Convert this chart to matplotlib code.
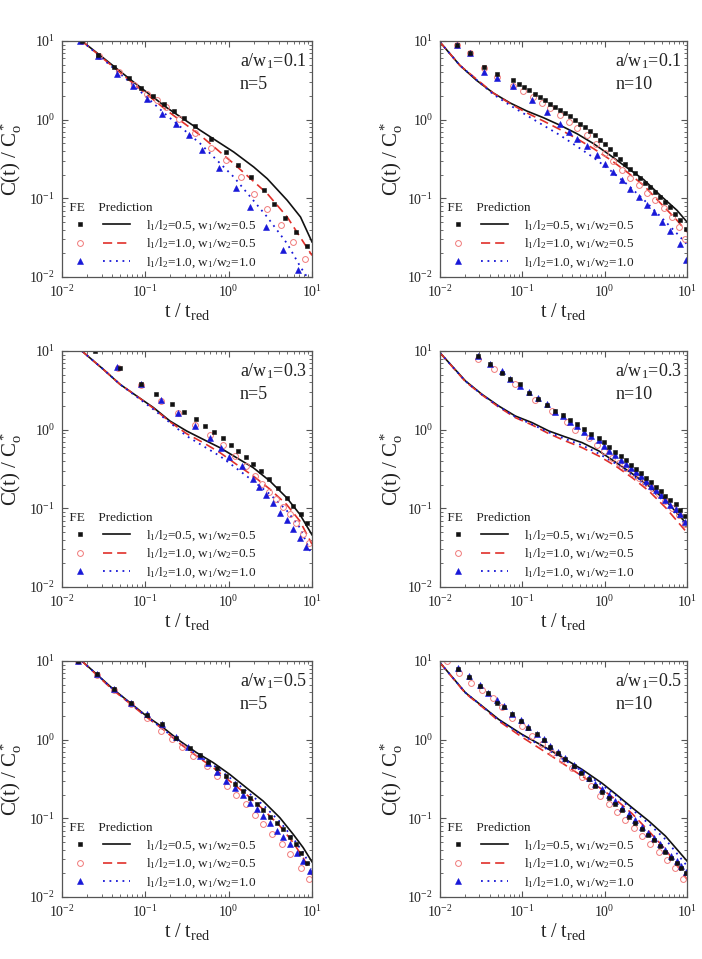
import numpy as np
import matplotlib
matplotlib.use("Agg")
import matplotlib.pyplot as plt
from matplotlib.lines import Line2D
from matplotlib.legend_handler import HandlerTuple
from matplotlib.ticker import LogLocator, LogFormatterMathtext, NullFormatter

plt.rcParams['font.family'] = ['Liberation Serif', 'DejaVu Serif']
plt.rcParams['mathtext.fontset'] = 'custom'
plt.rcParams['mathtext.rm'] = 'Liberation Serif'
plt.rcParams['mathtext.it'] = 'Liberation Serif:italic'
plt.rcParams['mathtext.bf'] = 'Liberation Serif:bold'
plt.rcParams['mathtext.default'] = 'regular'

# ---------------- data ----------------
# Panel 1: a/w1=0.1, n=5
p1_sq_t = [0.0173, 0.0274, 0.0416, 0.0629, 0.0882, 0.124, 0.166, 0.223, 0.294, 0.398, 0.613, 0.936, 1.31, 1.84, 2.64, 3.48, 4.68, 6.46, 8.75]
p1_sq_c = [9.91, 6.70, 4.67, 3.42, 2.50, 1.98, 1.58, 1.29, 1.06, 0.822, 0.568, 0.385, 0.268, 0.187, 0.126, 0.084, 0.0568, 0.0373, 0.0248]
p1_ci_t = [0.0173, 0.0279, 0.0477, 0.0722, 0.104, 0.137, 0.177, 0.256, 0.392, 0.613, 0.927, 1.40, 2.00, 2.90, 4.20, 5.89, 8.34]
p1_ci_c = [9.91, 6.52, 4.04, 2.73, 2.10, 1.76, 1.45, 1.01, 0.678, 0.441, 0.304, 0.187, 0.115, 0.0740, 0.0458, 0.0276, 0.0168]
p1_tr_t = [0.0165, 0.0269, 0.0456, 0.0709, 0.106, 0.160, 0.233, 0.338, 0.484, 0.774, 1.22, 1.82, 2.81, 4.43, 6.83]
p1_tr_c = [10.0, 6.38, 3.85, 2.65, 1.85, 1.19, 0.873, 0.632, 0.411, 0.240, 0.137, 0.0776, 0.0433, 0.0222, 0.0122]
p1_ln_t = [0.0173, 0.0286, 0.0722, 0.181, 0.457, 1.15, 2.00, 2.90, 5.04, 7.28, 10.0]
p1_ln_c = [10.0, 6.58, 3.01, 1.42, 0.731, 0.388, 0.250, 0.178, 0.0944, 0.0579, 0.0279]
p1_da_t = [0.0173, 0.0722, 0.181, 0.457, 1.15, 2.90, 5.04, 10.0]
p1_da_c = [10.0, 2.87, 1.31, 0.632, 0.276, 0.115, 0.0579, 0.0188]
p1_do_t = [0.0173, 0.0722, 0.181, 0.457, 1.15, 2.90, 5.04, 7.28, 8.73]
p1_do_c = [10.0, 2.73, 1.135, 0.495, 0.187, 0.0579, 0.0265, 0.0134, 0.0100]

# Panel 2: a/w1=0.1, n=10
p2_sq_t = [0.0162, 0.0231, 0.0343, 0.0489, 0.0764, 0.0917, 0.106, 0.122, 0.143, 0.164, 0.189, 0.218, 0.250, 0.289, 0.332, 0.381, 0.438, 0.505, 0.581, 0.668, 0.769, 0.884, 1.01, 1.17, 1.35, 1.55, 1.78, 2.05, 2.36, 2.71, 3.13, 3.60, 4.13, 4.74, 5.46, 6.28, 7.22, 8.31, 9.81]
p2_sq_c = [8.89, 7.11, 4.67, 3.77, 3.16, 2.81, 2.60, 2.36, 2.14, 1.94, 1.76, 1.60, 1.45, 1.34, 1.22, 1.11, 1.00, 0.889, 0.807, 0.711, 0.632, 0.557, 0.486, 0.424, 0.370, 0.319, 0.276, 0.238, 0.210, 0.183, 0.158, 0.139, 0.120, 0.104, 0.0897, 0.0776, 0.0638, 0.0525, 0.0411]
p2_ci_t = [0.0162, 0.0231, 0.0343, 0.0489, 0.0764, 0.103, 0.136, 0.172, 0.218, 0.289, 0.364, 0.460, 0.610, 0.790, 1.01, 1.28, 1.63, 2.05, 2.59, 3.27, 4.13, 5.20, 6.59, 7.93, 9.53]
p2_ci_c = [8.89, 7.03, 4.58, 3.48, 2.65, 2.31, 1.94, 1.63, 1.42, 1.135, 0.933, 0.783, 0.632, 0.495, 0.377, 0.298, 0.231, 0.183, 0.146, 0.117, 0.0944, 0.0760, 0.0579, 0.0433, 0.0307]
p2_tr_t = [0.0162, 0.0231, 0.0343, 0.0489, 0.0779, 0.130, 0.198, 0.289, 0.364, 0.460, 0.610, 0.804, 1.01, 1.28, 1.63, 2.05, 2.59, 3.27, 3.95, 4.98, 6.28, 8.15, 9.81]
p2_tr_c = [8.89, 7.03, 4.04, 3.42, 2.65, 1.76, 1.25, 0.873, 0.697, 0.573, 0.458, 0.352, 0.276, 0.216, 0.169, 0.133, 0.104, 0.0815, 0.0670, 0.0500, 0.0385, 0.0265, 0.0163]
p2_ln_t = [0.01, 0.0174, 0.0278, 0.0444, 0.0711, 0.113, 0.180, 0.289, 0.460, 0.734, 1.17, 1.87, 2.98, 4.74, 7.57, 10.0]
p2_ln_c = [9.70, 4.91, 3.16, 2.18, 1.63, 1.29, 1.06, 0.847, 0.664, 0.495, 0.352, 0.245, 0.173, 0.109, 0.0703, 0.0500]
p2_da_t = [0.01, 0.0174, 0.0444, 0.0711, 0.113, 0.180, 0.289, 0.460, 0.734, 1.17, 1.87, 2.98, 4.74, 7.57, 10.0]
p2_da_c = [9.70, 4.91, 2.18, 1.60, 1.22, 0.962, 0.746, 0.573, 0.428, 0.310, 0.216, 0.146, 0.0873, 0.0525, 0.0373]
p2_do_t = [0.01, 0.0174, 0.0444, 0.0711, 0.113, 0.180, 0.289, 0.460, 0.734, 1.17, 1.87, 2.98, 4.74, 7.57, 10.0]
p2_do_c = [9.70, 4.91, 2.10, 1.52, 1.135, 0.847, 0.632, 0.458, 0.329, 0.227, 0.151, 0.0962, 0.0590, 0.0356, 0.0260]

# Panel 3: a/w1=0.3, n=5
p3_sq_t = [0.0249, 0.0497, 0.0882, 0.135, 0.211, 0.291, 0.405, 0.524, 0.672, 0.860, 1.06, 1.30, 1.61, 1.94, 2.41, 3.07, 3.93, 4.95, 5.95, 7.29, 8.74]
p3_sq_c = [10.0, 6.14, 3.77, 2.81, 2.14, 1.69, 1.38, 1.12, 0.933, 0.776, 0.638, 0.536, 0.450, 0.370, 0.298, 0.234, 0.183, 0.137, 0.107, 0.0839, 0.0658]
p3_ci_t = [0.0474, 0.0882, 0.153, 0.249, 0.394, 0.596, 0.860, 1.19, 1.63, 2.07, 2.48, 3.07, 3.68, 4.51, 5.42, 6.41, 7.70, 9.23]
p3_ci_c = [6.14, 3.70, 2.31, 1.64, 1.15, 0.855, 0.632, 0.462, 0.345, 0.258, 0.206, 0.163, 0.130, 0.104, 0.0839, 0.0658, 0.0467, 0.0366]
p3_tr_t = [0.0454, 0.0882, 0.153, 0.249, 0.394, 0.596, 0.807, 1.01, 1.43, 1.94, 2.32, 2.79, 3.42, 4.11, 4.95, 5.95, 7.15, 8.58]
p3_tr_c = [6.27, 3.77, 2.36, 1.64, 1.11, 0.776, 0.590, 0.450, 0.345, 0.234, 0.187, 0.146, 0.118, 0.0881, 0.0703, 0.0541, 0.0424, 0.0322]
p3_ln_t = [0.0173, 0.0313, 0.0497, 0.0787, 0.125, 0.197, 0.313, 0.495, 0.786, 1.24, 1.97, 3.13, 4.95, 7.15, 10.0]
p3_ln_c = [10.0, 5.85, 3.77, 2.68, 1.91, 1.29, 0.962, 0.753, 0.590, 0.441, 0.329, 0.222, 0.137, 0.0839, 0.0460]
p3_da_t = [0.0173, 0.0313, 0.0497, 0.0787, 0.125, 0.197, 0.313, 0.495, 0.786, 1.24, 1.97, 3.13, 4.95, 7.15, 10.0]
p3_da_c = [10.0, 5.85, 3.77, 2.68, 1.87, 1.26, 0.889, 0.684, 0.511, 0.362, 0.258, 0.175, 0.112, 0.0690, 0.0350]
p3_do_t = [0.0173, 0.0313, 0.0497, 0.0787, 0.125, 0.197, 0.313, 0.495, 0.786, 1.24, 1.97, 3.13, 4.95, 7.15, 10.0]
p3_do_c = [10.0, 5.85, 3.77, 2.62, 1.81, 1.23, 0.830, 0.619, 0.462, 0.322, 0.222, 0.151, 0.0944, 0.0568, 0.0255]

# Panel 4: a/w1=0.3, n=10
p4_sq_t = [0.0292, 0.0404, 0.0562, 0.0711, 0.0935, 0.121, 0.157, 0.198, 0.250, 0.316, 0.381, 0.460, 0.559, 0.687, 0.845, 0.974, 1.14, 1.35, 1.58, 1.83, 2.11, 2.40, 2.79, 3.22, 3.69, 4.26, 4.90, 5.47, 6.30, 7.25, 8.33, 9.55]
p4_sq_c = [8.63, 6.78, 5.31, 4.37, 3.77, 2.95, 2.43, 2.06, 1.73, 1.52, 1.31, 1.17, 1.01, 0.873, 0.776, 0.690, 0.603, 0.525, 0.458, 0.407, 0.356, 0.319, 0.281, 0.245, 0.216, 0.188, 0.166, 0.144, 0.126, 0.112, 0.0962, 0.0800]
p4_ci_t = [0.0292, 0.0453, 0.0816, 0.143, 0.228, 0.347, 0.438, 0.638, 0.805, 0.974, 1.22, 1.48, 1.78, 2.15, 2.59, 3.13, 3.76, 4.55, 5.47, 6.60, 7.96, 9.55]
p4_ci_c = [7.84, 5.85, 3.77, 2.36, 1.73, 1.26, 0.990, 0.776, 0.632, 0.536, 0.441, 0.381, 0.329, 0.284, 0.245, 0.212, 0.179, 0.151, 0.124, 0.102, 0.0822, 0.0627]
p4_tr_t = [0.0292, 0.0404, 0.0562, 0.0711, 0.0935, 0.121, 0.157, 0.198, 0.250, 0.316, 0.381, 0.460, 0.559, 0.687, 0.845, 0.974, 1.14, 1.35, 1.58, 1.83, 2.11, 2.40, 2.79, 3.22, 3.69, 4.26, 4.90, 5.47, 6.30, 7.25, 8.33, 9.55]
p4_tr_c = [8.63, 6.78, 5.57, 4.37, 3.59, 3.04, 2.50, 2.10, 1.69, 1.49, 1.26, 1.11, 0.944, 0.830, 0.731, 0.619, 0.536, 0.476, 0.407, 0.362, 0.322, 0.292, 0.258, 0.222, 0.192, 0.169, 0.148, 0.126, 0.110, 0.0970, 0.0839, 0.0678]
p4_ln_t = [0.01, 0.0204, 0.0324, 0.0516, 0.0824, 0.131, 0.210, 0.335, 0.533, 0.851, 1.29, 2.16, 3.45, 5.50, 10.0]
p4_ln_c = [9.5, 4.16, 2.81, 2.00, 1.49, 1.23, 0.962, 0.807, 0.684, 0.536, 0.400, 0.276, 0.192, 0.126, 0.0627]
p4_da_t = [0.01, 0.0204, 0.0324, 0.0516, 0.0824, 0.131, 0.210, 0.335, 0.533, 0.851, 1.36, 2.16, 3.45, 5.50, 10.0]
p4_da_c = [9.5, 4.07, 2.76, 1.94, 1.42, 1.15, 0.889, 0.718, 0.590, 0.462, 0.345, 0.245, 0.166, 0.102, 0.0491]
p4_do_t = [0.01, 0.0204, 0.0324, 0.0516, 0.0824, 0.131, 0.210, 0.335, 0.533, 0.851, 1.36, 2.16, 3.45, 5.50, 10.0]
p4_do_c = [9.5, 4.12, 2.78, 1.98, 1.45, 1.17, 0.925, 0.760, 0.632, 0.495, 0.370, 0.265, 0.183, 0.118, 0.0596]

# Panel 5: a/w1=0.5, n=5
p5_sq_t = [0.0157, 0.0261, 0.0425, 0.0667, 0.106, 0.157, 0.233, 0.343, 0.452, 0.569, 0.730, 0.927, 1.19, 1.47, 1.80, 2.16, 2.59, 3.13, 3.75, 4.51, 5.42, 6.41, 7.48, 8.74]
p5_sq_c = [10.0, 6.78, 4.37, 2.95, 2.06, 1.57, 1.06, 0.791, 0.638, 0.525, 0.432, 0.345, 0.276, 0.222, 0.183, 0.153, 0.126, 0.104, 0.0863, 0.0724, 0.0585, 0.0476, 0.0366, 0.0273]
p5_ci_t = [0.0157, 0.0261, 0.0425, 0.0667, 0.106, 0.153, 0.211, 0.272, 0.376, 0.554, 0.717, 0.947, 1.22, 1.61, 2.07, 2.59, 3.27, 4.31, 5.42, 7.48, 9.23]
p5_ci_c = [10.0, 6.58, 4.24, 2.81, 1.91, 1.29, 1.01, 0.807, 0.619, 0.462, 0.345, 0.258, 0.198, 0.153, 0.110, 0.0839, 0.0627, 0.0476, 0.0348, 0.0236, 0.0168]
p5_tr_t = [0.0157, 0.0261, 0.0425, 0.0667, 0.106, 0.157, 0.233, 0.327, 0.452, 0.569, 0.717, 0.927, 1.19, 1.47, 1.80, 2.16, 2.59, 3.13, 3.83, 4.51, 5.42, 6.52, 7.84, 9.40]
p5_tr_c = [10.0, 6.78, 4.37, 2.95, 2.10, 1.57, 1.08, 0.807, 0.619, 0.505, 0.392, 0.298, 0.240, 0.198, 0.158, 0.130, 0.107, 0.0863, 0.0690, 0.0585, 0.0467, 0.0366, 0.0287, 0.0214]
p5_ln_t = [0.0173, 0.0261, 0.0413, 0.0655, 0.103, 0.164, 0.260, 0.412, 0.652, 1.03, 1.63, 2.59, 4.11, 5.95, 7.84, 10.0]
p5_ln_c = [10.0, 6.78, 4.37, 2.95, 2.00, 1.42, 0.962, 0.684, 0.511, 0.362, 0.245, 0.166, 0.102, 0.0627, 0.0424, 0.0280]
p5_da_t = [0.0173, 0.0261, 0.0413, 0.0655, 0.103, 0.164, 0.260, 0.412, 0.652, 1.03, 1.63, 2.59, 4.11, 5.95, 7.84, 10.0]
p5_da_c = [10.0, 6.64, 4.24, 2.87, 1.94, 1.35, 0.889, 0.619, 0.441, 0.298, 0.202, 0.130, 0.0800, 0.0491, 0.0316, 0.0190]
p5_do_t = [0.0173, 0.0413, 0.103, 0.260, 0.412, 0.652, 1.03, 1.63, 2.59, 4.11, 5.95, 7.84, 10.0]
p5_do_c = [10.0, 4.33, 1.98, 0.925, 0.652, 0.476, 0.329, 0.222, 0.148, 0.0907, 0.0557, 0.0366, 0.0230]

# Panel 6: a/w1=0.5, n=10
p6_sq_t = [0.0167, 0.0225, 0.0306, 0.0387, 0.0488, 0.0605, 0.0757, 0.0961, 0.118, 0.150, 0.181, 0.218, 0.269, 0.332, 0.419, 0.519, 0.638, 0.769, 0.927, 1.12, 1.35, 1.63, 1.96, 2.36, 2.85, 3.37, 3.95, 4.67, 5.47, 6.43, 7.46, 8.57, 9.73]
p6_sq_c = [7.91, 6.27, 4.81, 3.88, 2.95, 2.60, 2.10, 1.73, 1.42, 1.17, 0.990, 0.807, 0.684, 0.562, 0.462, 0.381, 0.313, 0.258, 0.218, 0.183, 0.153, 0.126, 0.104, 0.0881, 0.0724, 0.0614, 0.0525, 0.0445, 0.0377, 0.0316, 0.0273, 0.0236, 0.0204]
p6_ci_t = [0.0120, 0.0170, 0.0238, 0.0326, 0.0444, 0.0562, 0.0743, 0.0988, 0.130, 0.173, 0.228, 0.302, 0.400, 0.529, 0.688, 0.883, 1.12, 1.41, 1.78, 2.25, 2.85, 3.60, 4.55, 5.74, 7.11, 8.89]
p6_ci_c = [10.0, 7.11, 5.31, 4.24, 3.35, 2.60, 1.91, 1.49, 1.11, 0.873, 0.684, 0.546, 0.441, 0.339, 0.258, 0.192, 0.153, 0.122, 0.0944, 0.0746, 0.0596, 0.0467, 0.0377, 0.0295, 0.0231, 0.0168]
p6_tr_t = [0.0167, 0.0225, 0.0306, 0.0387, 0.0488, 0.0605, 0.0757, 0.0961, 0.118, 0.150, 0.181, 0.218, 0.269, 0.332, 0.419, 0.519, 0.638, 0.769, 0.927, 1.12, 1.35, 1.63, 1.96, 2.36, 2.85, 3.37, 3.95, 4.67, 5.47, 6.43, 7.46, 8.57, 9.73]
p6_tr_c = [8.22, 6.44, 4.95, 3.95, 3.16, 2.68, 2.14, 1.76, 1.45, 1.19, 1.01, 0.830, 0.703, 0.579, 0.476, 0.400, 0.329, 0.276, 0.234, 0.198, 0.166, 0.137, 0.115, 0.0944, 0.0776, 0.0658, 0.0557, 0.0467, 0.0395, 0.0332, 0.0287, 0.0248, 0.0210]
p6_ln_t = [0.01, 0.0204, 0.0324, 0.0516, 0.0988, 0.210, 0.529, 0.927, 1.35, 2.15, 3.43, 5.47, 10.0]
p6_ln_c = [9.53, 3.95, 2.68, 1.81, 1.17, 0.753, 0.420, 0.280, 0.205, 0.137, 0.0925, 0.0596, 0.0287]
p6_da_t = [0.01, 0.0204, 0.0324, 0.0516, 0.0988, 0.210, 0.529, 0.927, 1.35, 2.15, 3.43, 5.47, 10.0]
p6_da_c = [9.53, 3.88, 2.62, 1.73, 1.08, 0.652, 0.345, 0.234, 0.175, 0.115, 0.0690, 0.0404, 0.0168]
p6_do_t = [0.01, 0.0204, 0.0324, 0.0516, 0.0988, 0.210, 0.529, 0.927, 1.35, 2.15, 3.43, 5.47, 10.0]
p6_do_c = [9.53, 3.95, 2.66, 1.78, 1.15, 0.731, 0.400, 0.265, 0.198, 0.130, 0.0855, 0.0541, 0.0248]

aw_labels = ['0.1', '0.1', '0.3', '0.3', '0.5', '0.5']
n_labels = ['5', '10', '5', '10', '5', '10']
legend_labels = [r'$\mathrm{l_1/l_2}$=0.5, $\mathrm{w_1/w_2}$=0.5',
                 r'$\mathrm{l_1/l_2}$=1.0, $\mathrm{w_1/w_2}$=0.5',
                 r'$\mathrm{l_1/l_2}$=1.0, $\mathrm{w_1/w_2}$=1.0']

panels = [
    (p1_sq_t, p1_sq_c, p1_ci_t, p1_ci_c, p1_tr_t, p1_tr_c, p1_ln_t, p1_ln_c, p1_da_t, p1_da_c, p1_do_t, p1_do_c),
    (p2_sq_t, p2_sq_c, p2_ci_t, p2_ci_c, p2_tr_t, p2_tr_c, p2_ln_t, p2_ln_c, p2_da_t, p2_da_c, p2_do_t, p2_do_c),
    (p3_sq_t, p3_sq_c, p3_ci_t, p3_ci_c, p3_tr_t, p3_tr_c, p3_ln_t, p3_ln_c, p3_da_t, p3_da_c, p3_do_t, p3_do_c),
    (p4_sq_t, p4_sq_c, p4_ci_t, p4_ci_c, p4_tr_t, p4_tr_c, p4_ln_t, p4_ln_c, p4_da_t, p4_da_c, p4_do_t, p4_do_c),
    (p5_sq_t, p5_sq_c, p5_ci_t, p5_ci_c, p5_tr_t, p5_tr_c, p5_ln_t, p5_ln_c, p5_da_t, p5_da_c, p5_do_t, p5_do_c),
    (p6_sq_t, p6_sq_c, p6_ci_t, p6_ci_c, p6_tr_t, p6_tr_c, p6_ln_t, p6_ln_c, p6_da_t, p6_da_c, p6_do_t, p6_do_c),
]

# ---------------- styles / layout ----------------
BLACK = '#111111'
RED_LINE = '#e0302a'
RED_MK = '#f07a7a'
BLUE = '#1818d8'
FRAME = '#555555'
TEXT = '#222222'

sq_style = dict(ls='none', marker='s', ms=3.3, mfc=BLACK, mec=BLACK, mew=0.4)
ci_style = dict(ls='none', marker='o', ms=4.2, mfc='none', mec=RED_MK, mew=0.7)
tr_style = dict(ls='none', marker='^', ms=4.2, mfc=BLUE, mec=BLUE, mew=0.4)
ln_style = dict(ls='-', color=BLACK, lw=1.2)
da_style = dict(ls=(0, (5.5, 3.0)), color=RED_LINE, lw=1.2)
do_style = dict(ls=(0, (1.0, 2.6)), color=BLUE, lw=1.3)

W, H = 702, 959
fig = plt.figure(figsize=(W / 100, H / 100), dpi=100)

col_x = [62, 440]
col_w = [250, 247]
ylab_x = [-0.15, -0.14]
row_top = [41, 351, 661]
ax_h = 236

for i, data in enumerate(panels):
    r, c = divmod(i, 2)
    left = col_x[c] / W
    bottom = 1 - (row_top[r] + ax_h) / H
    ax = fig.add_axes([left, bottom, col_w[c] / W, ax_h / H])
    (sq_t, sq_c, ci_t, ci_c, tr_t, tr_c, ln_t, ln_c, da_t, da_c, do_t, do_c) = data

    ax.plot(ln_t, ln_c, **ln_style)
    ax.plot(da_t, da_c, **da_style)
    ax.plot(do_t, do_c, **do_style)
    ax.plot(ci_t, ci_c, **ci_style)
    ax.plot(tr_t, tr_c, **tr_style)
    ax.plot(sq_t, sq_c, **sq_style)

    ax.set_xscale('log')
    ax.set_yscale('log')
    ax.set_xlim(1e-2, 1e1)
    ax.set_ylim(1e-2, 1e1)
    for a in (ax.xaxis, ax.yaxis):
        a.set_major_locator(LogLocator(base=10, numticks=10))
        a.set_minor_locator(LogLocator(base=10, subs=np.arange(2, 10), numticks=10))
        a.set_major_formatter(LogFormatterMathtext())
        a.set_minor_formatter(NullFormatter())
    ax.tick_params(which='both', direction='in', top=True, right=True,
                   colors=FRAME, labelcolor=TEXT, labelsize=10)
    ax.tick_params(which='major', length=4.5, width=0.8, pad=5)
    ax.tick_params(which='minor', length=2.5, width=0.6)
    for s in ax.spines.values():
        s.set_color(FRAME)
        s.set_linewidth(0.9)

    ax.set_xlabel(r'$\mathrm{t\ /\ t_{red}}$', fontsize=14.5, labelpad=1, color=TEXT)
    ax.set_ylabel(r'$\mathrm{C(t)\ /\ C_o^*}$', fontsize=15, color=TEXT)
    ax.yaxis.set_label_coords(ylab_x[c], 0.5)

    ax.text(0.71, 0.915, r'a/$\mathrm{w_1}$=' + aw_labels[i], transform=ax.transAxes,
            fontsize=13, va='center', ha='left', color=TEXT)
    ax.text(0.71, 0.815, 'n=' + n_labels[i], transform=ax.transAxes,
            fontsize=13, va='center', ha='left', color=TEXT)

    handles = [
        (Line2D([], [], **sq_style), Line2D([], [], **ln_style)),
        (Line2D([], [], **ci_style), Line2D([], [], **da_style)),
        (Line2D([], [], **tr_style), Line2D([], [], **do_style)),
    ]
    leg = ax.legend(handles, legend_labels,
                    handler_map={tuple: HandlerTuple(ndivide=None, pad=0.8)},
                    loc='lower left', bbox_to_anchor=(0.018, 0.03),
                    frameon=False, fontsize=9.5, handlelength=4.8,
                    handletextpad=1.2, labelspacing=0.3, borderpad=0.0,
                    borderaxespad=0.0, title=' FE    Prediction',
                    title_fontsize=9.5, alignment='left')
    leg.get_title().set_color(TEXT)
    for t in leg.get_texts():
        t.set_color(TEXT)

fig.savefig('out.png', dpi=100)
